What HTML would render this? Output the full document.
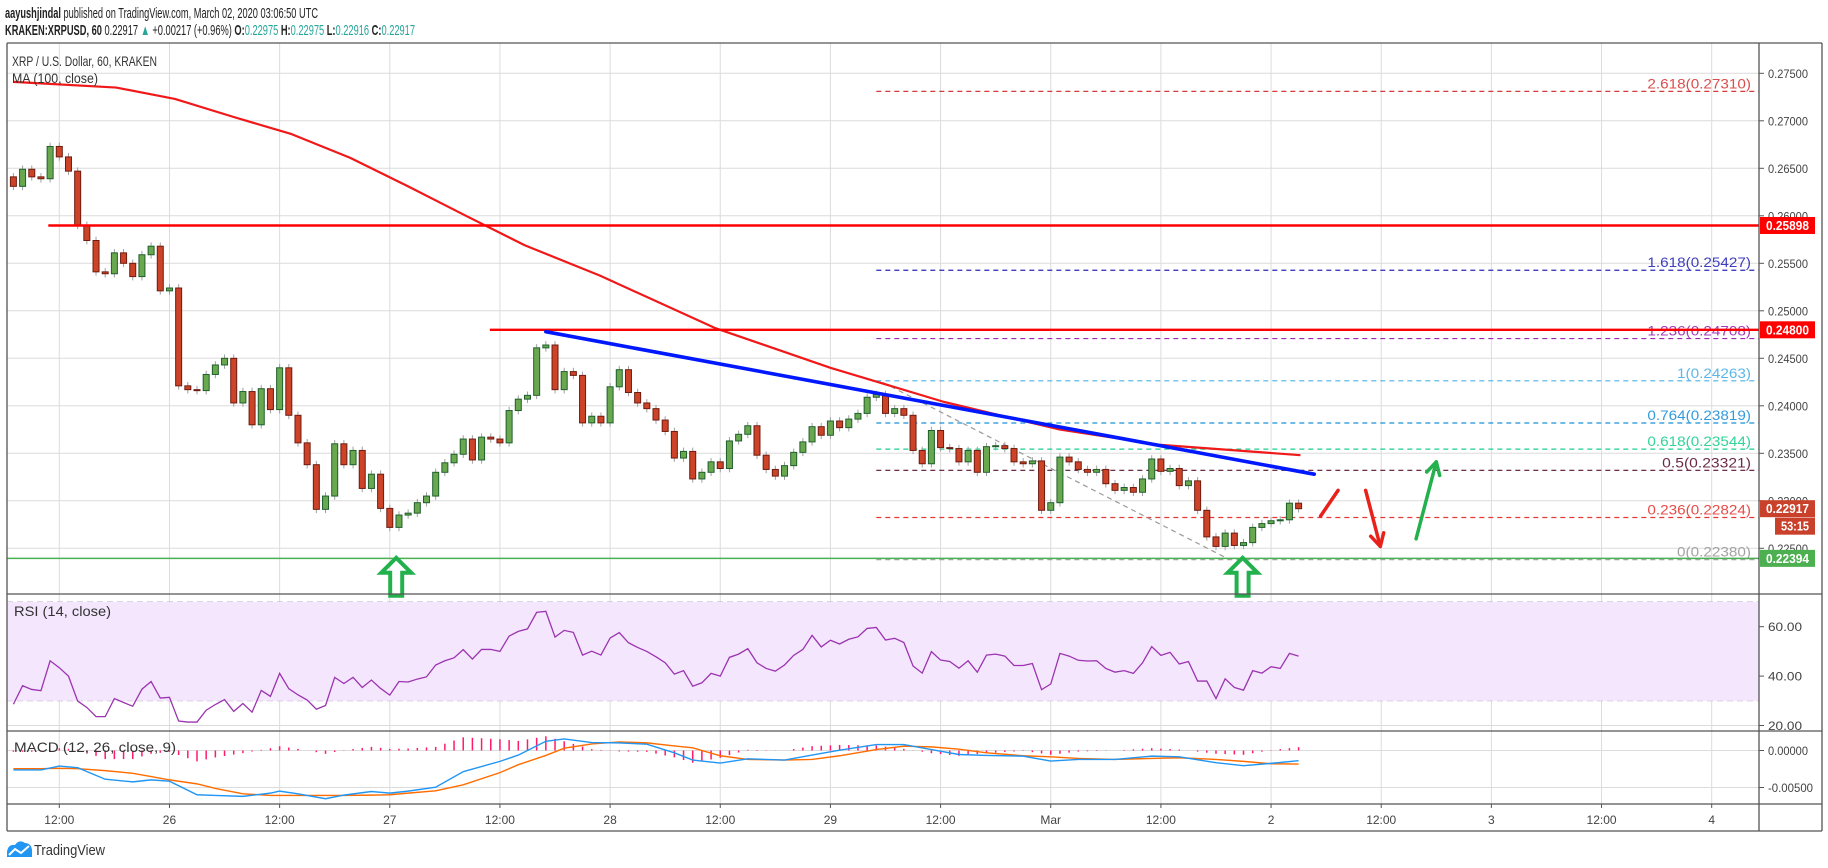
<!DOCTYPE html>
<html><head><meta charset="utf-8"><title>XRPUSD chart</title>
<style>
html,body{margin:0;padding:0;background:#fff;}
svg{display:block;font-family:"Liberation Sans",sans-serif;}
</style></head>
<body>
<svg id="chart" xmlns="http://www.w3.org/2000/svg" width="1828" height="868" viewBox="0 0 1828 868">
<text x="5" y="18" font-size="15" fill="#222" textLength="313" lengthAdjust="spacingAndGlyphs"><tspan font-weight="bold">aayushjindal</tspan> published on TradingView.com, March 02, 2020 03:06:50 UTC</text>
<text x="5" y="35" font-size="15" fill="#222" textLength="410" lengthAdjust="spacingAndGlyphs"><tspan font-weight="bold">KRAKEN:XRPUSD, 60</tspan> 0.22917 <tspan fill="#26a69a">▲</tspan> +0.00217 (+0.96%) <tspan font-weight="bold">O:</tspan><tspan fill="#26a69a">0.22975</tspan> <tspan font-weight="bold">H:</tspan><tspan fill="#26a69a">0.22975</tspan> <tspan font-weight="bold">L:</tspan><tspan fill="#26a69a">0.22916</tspan> <tspan font-weight="bold">C:</tspan><tspan fill="#26a69a">0.22917</tspan></text>
<g id="grid"></g>
<rect id="rsiband" x="7" y="0" width="1752" height="0" fill="#f3e6fd"></rect>
<g id="layer"></g>
<g id="frame"></g>
<text x="12" y="66" font-size="14" fill="#333" textLength="145" lengthAdjust="spacingAndGlyphs">XRP / U.S. Dollar, 60, KRAKEN</text>
<text x="12" y="83" font-size="14" fill="#333" textLength="86" lengthAdjust="spacingAndGlyphs">MA (100, close)</text>
<text x="14" y="616" font-size="14" fill="#333" textLength="97" lengthAdjust="spacingAndGlyphs">RSI (14, close)</text>
<text x="14" y="752" font-size="14" fill="#333" textLength="162" lengthAdjust="spacingAndGlyphs">MACD (12, 26, close, 9)</text>
<g>
<path d="M7 857 L7 852 Q8 844 15 845 Q19 839 25 843 Q31 843 32 850 L32 857 Z" fill="#2196f3"/>
<polyline points="9,855 15,849 21,853 29,846" fill="none" stroke="#fff" stroke-width="2"/>
<text x="34" y="855" font-size="15" fill="#333" textLength="71" lengthAdjust="spacingAndGlyphs">TradingView</text>
</g>
</svg>
<script>
// ---- data ----
const firstTime = 7; // hour index (0 = Feb 25 00:00)
const firstOpen = 0.2641;
const closes = [
0.2631,0.2649,0.2641,0.2639,0.2673,0.2662,0.2647,0.2590,0.2574,0.2541,
0.2539,0.2561,0.2550,0.2536,0.2559,0.2568,0.2521,0.2524,0.2421,0.2417,
0.2416,0.2433,0.2443,0.2450,0.2403,0.2415,0.2380,0.2418,0.2396,0.2440,
0.2390,0.2361,0.2338,0.2291,0.2305,0.2360,0.2338,0.2353,0.2313,0.2328,
0.2292,0.2272,0.2285,0.2287,0.2298,0.2305,0.2330,0.2340,0.2349,0.2365,
0.2343,0.2367,0.2365,0.2361,0.2395,0.2407,0.2411,0.2461,0.2464,0.2417,
0.2436,0.2432,0.2382,0.2389,0.2382,
0.2420,0.2438,0.2414,0.2403,0.2397,0.2385,0.2373,0.2345,0.2352,0.2323,
0.2330,0.2341,0.2334,0.2363,0.2370,0.2379,0.2348,0.2333,0.2326,0.2337,
0.2351,0.2362,0.2378,0.2369,0.2384,0.2377,0.2386,0.2392,0.2409,0.2412,
0.2392,0.2397,0.2390,0.2353,0.2339,0.2374,0.2356,0.2355,0.2341,0.2353,
0.2330,0.2357,0.2358,0.2355,0.2341,0.2339,0.2342,0.2290,0.2298,0.2346,
0.2341,0.2333,0.2330,0.2333,0.2318,0.2311,0.2314,0.2309,0.2323,0.2344,
0.2331,0.2334,0.2316,0.2321,0.2290,
0.2262,0.2252,0.2266,0.2253,0.2256,0.2272,0.2276,0.2279,0.2280,0.22975,0.22917];
const rsiValues = [
28.6,36.1,34.6,34.1,46.2,43.4,40.0,29.9,27.3,23.6,
23.6,30.9,29.3,27.8,34.7,37.8,31.1,31.4,21.8,21.4,
21.4,26.2,28.5,30.5,25.7,28.9,25.4,34.2,31.8,41.1,
34.9,32.4,30.3,26.6,28.1,39.5,37.0,39.5,35.4,38.4,
35.0,32.3,37.8,37.6,38.8,39.7,44.5,46.2,47.4,50.7,
46.9,50.8,50.8,50.0,56.2,58.1,59.1,65.8,66.2,55.8,
58.5,57.7,48.5,50.1,48.5,55.4,57.6,53.5,51.6,50.0,47.8,
45.4,40.8,42.2,35.9,37.3,41.1,40.0,47.6,48.9,51.1,
45.4,43.1,42.0,44.5,48.4,50.8,56.5,51.8,54.5,53.0,
54.9,55.9,59.3,59.7,54.6,55.3,53.6,44.1,41.2,49.9,
46.5,45.9,43.2,46.2,41.6,48.5,48.9,48.1,44.3,44.3,
45.1,34.5,36.8,49.2,48.1,46.4,46.1,46.2,43.1,41.6,
42.2,41.1,45.4,51.9,48.4,49.6,44.9,45.9,38.0,38.0,
30.9,38.9,35.4,34.3,42.2,41.2,43.8,43.1,49.2,48.1];
const maTimes = [7,18.2,24.6,31,37.3,43.7,50,56.3,62.7,70.9,83.4,96,108.4,121,131.8,147.2];
const maValues = [0.2741,0.2735,0.2723,0.2704,0.2686,0.2661,0.2631,0.2600,0.2569,0.2537,0.2482,0.2440,0.2404,0.2375,0.2359,0.2348];
const macdTimes = [7,10,12,14,17,20,22,24,27,29,32,35,36,38,41,43,46,48,50,53,56,60,62,65,67,70,73,76,79,
81,84,87,91,94,97,101,104,107,110,113,117,120,123,127,131,134,138,141,144,147];
const macdValues = [-0.00263,-0.00263,-0.00210,-0.00232,-0.00388,-0.00424,-0.00397,-0.00415,-0.00598,-0.00607,
-0.00620,-0.00576,-0.00549,-0.00585,-0.00652,-0.00603,-0.00554,-0.00576,-0.00549,-0.00496,
-0.00286,-0.00147,-0.00062,0.00125,0.00156,0.00107,0.00103,0.00085,-0.00031,
-0.00129,-0.00170,-0.00112,-0.00129,-0.00062,0.00004,0.00080,0.00080,0.00013,-0.00054,
-0.00067,-0.00076,-0.00143,-0.00121,-0.00121,-0.00076,-0.00085,-0.00165,-0.00205,-0.00174,-0.00138];
const signalValues = [-0.00246,-0.00246,-0.00241,-0.00246,-0.00272,-0.00308,-0.00353,-0.00397,-0.00451,-0.00513,
-0.00585,-0.00607,-0.00607,-0.00607,-0.00607,-0.00607,-0.00603,-0.00598,-0.00576,-0.00545,
-0.00464,-0.00299,-0.00192,-0.00067,0.00031,0.00089,0.00116,0.00103,0.00062,
0.00036,-0.00071,-0.00121,-0.00129,-0.00121,-0.00071,0.00013,0.00058,0.00049,0.00018,
-0.00031,-0.00071,-0.00085,-0.00107,-0.00121,-0.00107,-0.00098,-0.00121,-0.00147,-0.00179,-0.00183];
const priceTicks = [0.225,0.230,0.235,0.240,0.245,0.250,0.255,0.260,0.265,0.270,0.275];
const priceTickLabels = ["0.22500","0.23000","0.23500","0.24000","0.24500","0.25000","0.25500","0.26000","0.26500","0.27000","0.27500"];
const timeTicks = [12,24,36,48,60,72,84,96,108,120,132,144,156,168,180,192];
const timeTickLabels = ["12:00","26","12:00","27","12:00","28","12:00","29","12:00","Mar","12:00","2","12:00","3","12:00","4"];
const rsiTicks = [60,40,20];
const rsiTickLabels = ["60.00","40.00","20.00"];
const macdTicks = [0,-0.005];
const macdTickLabels = ["0.00000","-0.00500"];
const fibRatios = ["2.618","1.618","1.236","1","0.764","0.618","0.5","0.236","0"];
const fibPrices = [0.27310,0.25427,0.24708,0.24263,0.23819,0.23544,0.23321,0.22824,0.22380];
const fibColors = ["#d63a3a","#2a2ab8","#9c27b0","#4ab0e6","#1e90d8","#1ccf8e","#5a1230","#e53935","#999999"];
const fibStart = 101;
const hLinePrices = [0.25898,0.24800];
const hLineStarts = [10.8,58.9];
const supportPrice = 0.22394;
const trendTimes = [65,148.7];
const trendPrices = [0.2478,0.2328];
const diagTimes = [101.7,139.5];
const diagPrices = [0.24246,0.2238];
const lastPrice = 0.22917;

// ---- axes ----
const L=7, R=1759, RB=1822, TOP=43, MAINB=594, RSIB=731, MACDB=804, BOT=831;
function xT(t){return 59.3+(t-12)*9.18;}
function yP(p){return 453.3+(0.235-p)*9500;}
function yR(v){return 626.7+(60-v)*2.47;}
function yM(m){return 750.5-m*7400;}
const NS="http://www.w3.org/2000/svg";
const grid=document.getElementById('grid'), layer=document.getElementById('layer'), frame=document.getElementById('frame');
function mk(tag,attrs,parent){const e=document.createElementNS(NS,tag);for(const k in attrs)e.setAttribute(k,attrs[k]);(parent||layer).appendChild(e);return e;}

timeTicks.forEach((t,i)=>{
  const x=xT(t);
  let g=mk('line',{x1:x,x2:x,y1:TOP,y2:MACDB,stroke:'#dcdcdc','stroke-width':1},grid);
  
  
  let tk=mk('line',{x1:x,x2:x,y1:MACDB,y2:MACDB+4,stroke:'#555'},frame);
  
  
  let tx=mk('text',{x:x,y:824,'font-size':12,fill:'#444','text-anchor':'middle'},frame);
  tx.textContent=timeTickLabels[i];
  
  
});
priceTicks.forEach((p,i)=>{
  const y=yP(p);
  let g=mk('line',{x1:L,x2:R,y1:y,y2:y,stroke:'#dcdcdc'},grid);
  
  
  let tk=mk('line',{x1:R,x2:R+5,y1:y,y2:y,stroke:'#555'},frame);
  
  
  let tx=mk('text',{x:1768,y:y+4.5,'font-size':12,fill:'#444',textLength:40,lengthAdjust:'spacingAndGlyphs'},frame);
  tx.textContent=priceTickLabels[i];
  
  
});
const band=document.getElementById('rsiband');
band.setAttribute('y',yR(70));band.setAttribute('height',yR(30)-yR(70));
[70,30].forEach(v=>{
  let d=mk('line',{x1:L,x2:R,y1:yR(v),y2:yR(v),stroke:'#b9a9c2','stroke-dasharray':'6 4'},grid);
  
  
});
rsiTicks.forEach((v,i)=>{
  const y=yR(v);
  let g=mk('line',{x1:L,x2:R,y1:y,y2:y,stroke:v===20?'#dcdcdc':'#cdbad8'},grid);
  
  
  let tk=mk('line',{x1:R,x2:R+5,y1:y,y2:y,stroke:'#555'},frame);
  
  
  let tx=mk('text',{x:1768,y:y+4.5,'font-size':12,fill:'#444',textLength:34,lengthAdjust:'spacingAndGlyphs'},frame);
  tx.textContent=rsiTickLabels[i];
  
  
});
macdTicks.forEach((m,i)=>{
  const y=yM(m);
  let g=mk('line',{x1:L,x2:R,y1:y,y2:y,stroke:'#dcdcdc'},grid);
  
  
  let tk=mk('line',{x1:R,x2:R+5,y1:y,y2:y,stroke:'#555'},frame);
  
  
  let tx=mk('text',{x:1768,y:y+4.5,'font-size':12,fill:'#444',textLength:m<0?45:40,lengthAdjust:'spacingAndGlyphs'},frame);
  tx.textContent=macdTickLabels[i];
  
  
});

fibPrices.forEach((p,i)=>{
  const y=yP(p);
  let l=mk('line',{x1:xT(fibStart),x2:R,y1:y,y2:y,stroke:fibColors[i],'stroke-width':1.2,'stroke-dasharray':'5 4'});
  
  
  const label=fibRatios[i]+'('+p.toFixed(5)+')';
  let tx=mk('text',{x:1751,y:y-3,'font-size':13.5,fill:fibColors[i],'text-anchor':'end',textLength:label.length*7.4,lengthAdjust:'spacingAndGlyphs',opacity:0.9});
  tx.textContent=label;
  
  
});
let dg=mk('line',{x1:xT(diagTimes[0]),y1:yP(diagPrices[0]),x2:xT(diagTimes[1]),y2:yP(diagPrices[1]),stroke:'#9a9a9a','stroke-width':1.2,'stroke-dasharray':'5 4'});



closes.forEach((c,i)=>{
  const t=firstTime+i;
  const o=i===0?firstOpen:closes[i-1];
  const up=c>=o;
  const hi=Math.max(o,c)+0.0004, lo=Math.min(o,c)-0.0004;
  const x=xT(t);
  let w=mk('line',{x1:x,x2:x,y1:yP(hi),y2:yP(lo),stroke:'#a0a0a0','stroke-width':1});
  
  
  const y1=yP(Math.max(o,c)), y2=yP(Math.min(o,c));
  let b=mk('rect',{x:x-3,y:y1,width:6,height:Math.max(1,y2-y1),fill:up?'#6aa84f':'#cc4328',stroke:up?'#1f5f2c':'#6e1c10','stroke-width':1});
  
  
});

let maPts=maTimes.map((t,i)=>xT(t)+','+yP(maValues[i])).join(' ');
let ma=mk('polyline',{points:maPts,fill:'none',stroke:'#f01818','stroke-width':2.2,'stroke-linejoin':'round'});



hLinePrices.forEach((p,i)=>{
  let l=mk('line',{x1:xT(hLineStarts[i]),x2:R,y1:yP(p),y2:yP(p),stroke:'#ff0000','stroke-width':2.4});
  
  
});
let sup=mk('line',{x1:L,x2:R,y1:yP(supportPrice),y2:yP(supportPrice),stroke:'#4caf50','stroke-width':1.6});


let tr=mk('line',{x1:xT(trendTimes[0]),y1:yP(trendPrices[0]),x2:xT(trendTimes[1]),y2:yP(trendPrices[1]),stroke:'#0018ff','stroke-width':3.6,'stroke-linecap':'round'});



const hollowTimes=[48.7,140.9];
const hollowTips=[0.2240,0.2240];
hollowTimes.forEach((t,i)=>{
  const cx=xT(t), ty=yP(hollowTips[i]);
  const pts=[[cx,ty],[cx+15,ty+15],[cx+6,ty+15],[cx+6,ty+38],[cx-6,ty+38],[cx-6,ty+15],[cx-15,ty+15]].map(p=>p.join(',')).join(' ');
  let a=mk('polygon',{points:pts,fill:'none',stroke:'#22b14c','stroke-width':4,'stroke-linejoin':'miter'});
  
  
});
function arrow(t1,p1,t2,p2,color,head,name){
  const x1=xT(t1),y1=yP(p1),x2=xT(t2),y2=yP(p2);
  const g=mk('g',{});
  
  
  mk('line',{x1,y1,x2,y2,stroke:color,'stroke-width':3.5,'stroke-linecap':'round'},g);
  if(head){
    const a=Math.atan2(y2-y1,x2-x1), s=14;
    const pts=[[x2-s*Math.cos(a-0.5),y2-s*Math.sin(a-0.5)],[x2,y2],[x2-s*Math.cos(a+0.5),y2-s*Math.sin(a+0.5)]].map(p=>p.join(',')).join(' ');
    mk('polyline',{points:pts,fill:'none',stroke:color,'stroke-width':3.5,'stroke-linecap':'round','stroke-linejoin':'round'},g);
  }
}
arrow(149.4,0.2284,151.3,0.2311,'#e8221a',false,'red-test-stroke');
arrow(154.3,0.2311,155.9,0.2252,'#e8221a',true,'red-down-arrow');
arrow(159.8,0.2260,162,0.2341,'#22b14c',true,'green-up-arrow');

let rsiPts=rsiValues.map((v,i)=>xT(firstTime+i)+','+yR(v)).join(' ');
let rl=mk('polyline',{points:rsiPts,fill:'none',stroke:'#9c33b0','stroke-width':1.3});



function interp(arrT,arrV,t){for(let i=0;i<arrT.length-1;i++){if(t>=arrT[i]&&t<=arrT[i+1]){const f=(t-arrT[i])/(arrT[i+1]-arrT[i]);return arrV[i]+f*(arrV[i+1]-arrV[i]);}}return arrV[arrV.length-1];}
for(let t=firstTime;t<=147;t++){
  const h=interp(macdTimes,macdValues,t)-interp(macdTimes,signalValues,t);
  let b=mk('line',{x1:xT(t),x2:xT(t),y1:yM(0),y2:yM(h),stroke:'#ff1a6b','stroke-width':1.5});
  
  
}
let sg=mk('polyline',{points:macdTimes.map((t,i)=>xT(t)+','+yM(signalValues[i])).join(' '),fill:'none',stroke:'#ff6d00','stroke-width':1.4});


let ml=mk('polyline',{points:macdTimes.map((t,i)=>xT(t)+','+yM(macdValues[i])).join(' '),fill:'none',stroke:'#2196f3','stroke-width':1.4});



[[L,TOP,RB,TOP],[L,TOP,L,BOT],[RB,TOP,RB,BOT],[L,BOT,RB,BOT],[L,MAINB,RB,MAINB],[L,RSIB,RB,RSIB],[L,MACDB,RB,MACDB],[R,TOP,R,BOT]].forEach(s=>{
  let l=mk('line',{x1:s[0],y1:s[1],x2:s[2],y2:s[3],stroke:'#555','stroke-width':1.3},frame);
  
  
});
function badge(p,color,text,name,yOff,x0,w){
  const y=yP(p)+(yOff||0);
  const g=mk('g',{},frame);
  
  
  mk('rect',{x:x0||1760,y:y-8.5,width:w||55,height:17,fill:color},g);
  const t=mk('text',{x:(x0||1760)+(w||55)/2,y:y+4.5,'font-size':12.5,'font-weight':'bold',fill:'#fff','text-anchor':'middle',textLength:(w||55)-12,lengthAdjust:'spacingAndGlyphs'},g);
  t.textContent=text;
}
badge(hLinePrices[0],'#ff0000',hLinePrices[0].toFixed(5),'resistance-price-badge');
badge(hLinePrices[1],'#ff0000',hLinePrices[1].toFixed(5),'resistance-price-badge');
badge(supportPrice,'#4caf50',supportPrice.toFixed(5),'support-price-badge');
badge(lastPrice,'#c9412a',lastPrice.toFixed(5),'last-price-badge');
badge(lastPrice,'#c9412a','53:15','bar-countdown-badge',17.5,1775,40);
</script>
</body></html>
